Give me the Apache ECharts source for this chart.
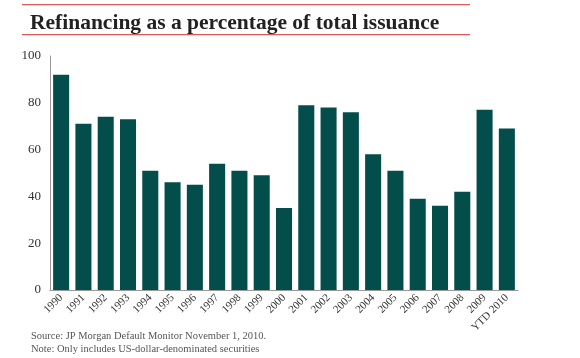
<!DOCTYPE html>
<html><head><meta charset="utf-8">
<script src="https://cdn.jsdelivr.net/npm/echarts@6/dist/echarts.min.js"></script>
<style>html,body{margin:0;padding:0;background:#fff}#c{width:580px;height:358px}</style>
</head><body><div id="c"></div>
<script>
const categories = ['1990','1991','1992','1993','1994','1995','1996','1997','1998','1999','2000','2001','2002','2003','2004','2005','2006','2007','2008','2009','YTD 2010'];
const refinancing = [92, 71, 74, 73, 51, 46, 45, 54, 51, 49, 35, 79, 78, 76, 58, 51, 39, 36, 42, 77, 69];
const yTicks = [0, 20, 40, 60, 80, 100];
const titleText = 'Refinancing as a percentage of total issuance';
const footnotes = ['Source: JP Morgan Default Monitor November 1, 2010.', 'Note: Only includes US-dollar-denominated securities'];

const chart = echarts.init(document.getElementById('c'), null, {renderer:'canvas'});
const serif = '"Liberation Serif", "DejaVu Serif", serif';
chart.setOption({
  animation: false,
  title: {
    text: titleText, left: 25, top: 7,
    textStyle: {fontFamily: serif, fontWeight: 'bold', fontSize: 21.5, color: '#222'}
  },
  graphic: [
    {type:'rect', z: 100, shape:{x:22,y:4,width:448,height:1.2}, style:{fill:'#dc5a5a'}},
    {type:'rect', z: 100, shape:{x:22,y:34,width:448,height:1.2}, style:{fill:'#dc5a5a'}},
    {type:'text', left: 31, top: 331, style:{text: footnotes[0], font: '10.5px ' + serif, fill:'#555'}},
    {type:'text', left: 31, top: 344, style:{text: footnotes[1], font: '10.5px ' + serif, fill:'#555'}}
  ],
  grid: {left: 50, right: 62, top: 56, bottom: 68, containLabel: false},
  xAxis: {
    type: 'category', data: categories,
    axisLine: {lineStyle: {color: '#999', width: 1}},
    axisTick: {show: false},
    axisLabel: {rotate: 45, interval: 0, fontFamily: serif, fontSize: 11, color: '#333', margin: 6}
  },
  yAxis: {
    type: 'value', min: 0, max: 100, interval: 20,
    axisLine: {show: true, lineStyle: {color: '#999', width: 1}},
    axisTick: {show: false},
    splitLine: {show: false},
    axisLabel: {fontFamily: serif, fontSize: 13, color: '#333', margin: 9,
      formatter: v => yTicks.includes(v) ? String(v) : ''}
  },
  series: [{
    type: 'bar', data: refinancing, barCategoryGap: '28%',
    itemStyle: {color: '#034e4a'}
  }]
});
</script></body></html>
